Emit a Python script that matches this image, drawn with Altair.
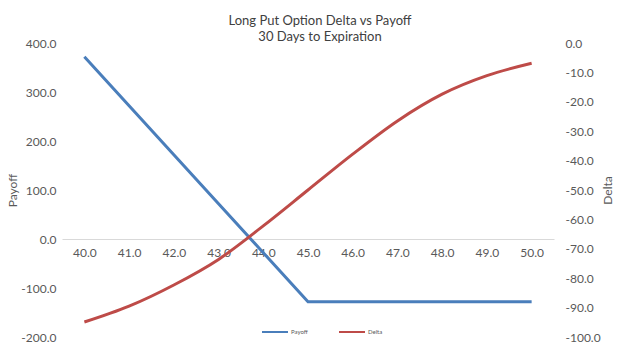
import altair as alt
import pandas as pd

strikes = [40.0, 41.0, 42.0, 43.0, 44.0, 45.0, 46.0, 47.0, 48.0, 49.0, 50.0]
payoff = [372, 272, 172, 72, -28, -128, -128, -128, -128, -128, -128]
delta = [-94.9, -89.5, -82.3, -73.6, -62.2, -50.0, -37.8, -26.5, -17.4, -11.1, -6.9]
x_ticks = [40, 41, 42, 43, 44, 45, 46, 47, 48, 49, 50]
payoff_ticks = [-200, -100, 0, 100, 200, 300, 400]
delta_ticks = [-100, -90, -80, -70, -60, -50, -40, -30, -20, -10, 0]

df = pd.DataFrame({"Price": strikes, "Payoff": payoff, "Delta": delta})

FONT = "Lato"
GRAY = "#595959"
LABEL_EXPR = "(datum.value < 0 ? '-' : '') + format(abs(datum.value), '.1f')"

color_scale = alt.Scale(domain=["Payoff", "Delta"], range=["#4a7ebb", "#be4b48"])

x_enc = alt.X(
    "Price:Q",
    scale=alt.Scale(domain=[39.5, 50.5], nice=False, zero=False),
    axis=alt.Axis(
        values=x_ticks, format=".1f", title=None, ticks=False, grid=False,
        domainColor="#d9d9d9", domainWidth=1, labelPadding=8, offset=-98,
        labelFontSize=12, labelColor=GRAY, labelFont=FONT,
    ),
)

payoff_line = alt.Chart(df).mark_line(strokeWidth=3).encode(
    x=x_enc,
    y=alt.Y(
        "Payoff:Q",
        scale=alt.Scale(domain=[-200, 400], nice=False),
        axis=alt.Axis(
            values=payoff_ticks, labelExpr=LABEL_EXPR, title="Payoff", grid=False,
            ticks=False, domain=False, labelPadding=6, titlePadding=1,
            labelFontSize=12, labelColor=GRAY, labelFont=FONT,
            titleFontSize=12, titleColor=GRAY, titleFont=FONT, titleFontWeight="normal",
        ),
    ),
    color=alt.Color("s:N", scale=color_scale, title=None),
).transform_calculate(s="'Payoff'")

delta_line = alt.Chart(df).mark_line(strokeWidth=3, interpolate="cardinal").encode(
    x=x_enc,
    y=alt.Y(
        "Delta:Q",
        scale=alt.Scale(domain=[-100, 0], nice=False),
        axis=alt.Axis(
            orient="right", values=delta_ticks, labelExpr=LABEL_EXPR, title="Delta",
            grid=False, ticks=False, domain=False, labelPadding=11, titlePadding=2,
            titleAngle=270, titleBaseline="top",
            labelFontSize=12, labelColor=GRAY, labelFont=FONT,
            titleFontSize=12, titleColor=GRAY, titleFont=FONT, titleFontWeight="normal",
        ),
    ),
    color=alt.Color("s:N", scale=color_scale, title=None),
).transform_calculate(s="'Delta'")

chart = (
    alt.layer(payoff_line, delta_line)
    .resolve_scale(y="independent")
    .properties(
        width=492,
        height=294,
        autosize=alt.AutoSizeParams(type="none"),
        padding={"left": 62, "top": 43, "right": 86, "bottom": 16},
        title=alt.TitleParams(
            text=["Long Put Option Delta vs Payoff", "30 Days to Expiration"],
            fontSize=13, fontWeight="normal", font=FONT, color="#404040",
            lineHeight=16, anchor="middle", dx=12, dy=11, offset=4,
        ),
    )
    .configure_view(stroke=None)
    .configure_legend(
        orient="none", legendX=199, legendY=275, direction="horizontal",
        symbolType="stroke", symbolSize=676, symbolStrokeWidth=2,
        labelFontSize=6, labelColor=GRAY, labelFont=FONT, columnPadding=27,
        labelOffset=2,
    )
)

chart.save("out.html", embed_options={"renderer": "svg", "actions": False})
